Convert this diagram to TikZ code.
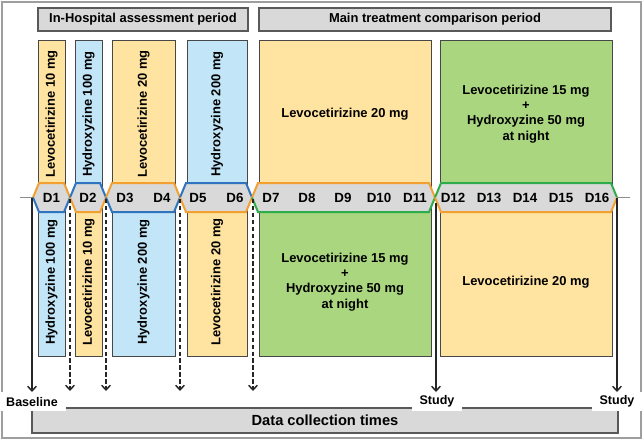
\documentclass[tikz,border=0pt]{standalone}
\usepackage{fontspec}
\setmainfont{Liberation Sans}
\usetikzlibrary{arrows.meta,positioning}
\definecolor{levofill}{HTML}{FFE3A0}
\definecolor{hydrofill}{HTML}{C2E6F8}
\definecolor{combofill}{HTML}{A9D67E}
\definecolor{bandfill}{HTML}{D9D9D9}
\definecolor{levoline}{HTML}{F2A031}
\definecolor{hydroline}{HTML}{2E74BF}
\definecolor{comboline}{HTML}{2EAB4B}
\tikzset{
  blk/.style={draw=black!72,line width=0.75pt,align=center,inner sep=0pt,font=\fontsize{9.7}{11.4}\selectfont\bfseries},
  levoblk/.style={blk,fill=levofill},
  hydroblk/.style={blk,fill=hydrofill},
  comboblk/.style={blk,fill=combofill},
  hdrblk/.style={blk,fill=bandfill,draw=black!65,line width=1pt,minimum height=17.25pt},
  narrow/.style={rotate=90,minimum width=111pt,minimum height=20.25pt},
  wide/.style={minimum width=129pt,minimum height=111pt},
  hexedge/.style={line width=1.5pt,line join=miter},
  daylbl/.style={font=\fontsize{10}{12}\selectfont\bfseries,inner sep=0pt},
  timelbl/.style={fill=white,inner xsep=6pt,inner ysep=0pt,minimum height=14pt,font=\fontsize{9.4}{11}\selectfont\bfseries},
  arr/.style={-{Straight Barb[length=3.5pt,width=6.5pt]},line width=1.1pt,black!85},
  darr/.style={arr,dash pattern=on 3.2pt off 2pt}
}

\begin{document}
\begin{tikzpicture}[x=0.75pt,y=-0.75pt]
  \useasboundingbox (0,0) rectangle (644,440);
  \draw[black!38,line width=0.9pt] (2,2) rectangle (641,438);

  % period headers
  \node[hdrblk,minimum width=157.5pt] (hosp) at (143,19.5) {In-Hospital assessment period};
  \node[hdrblk,minimum width=264pt] (main) at (435,19.5) {Main treatment comparison period};

  % upper treatment row
  \node[levoblk,narrow] (t1) at (51.5,114) {Levocetirizine 10 mg};
  \node[hydroblk,narrow] (t2) at (88.5,114) {Hydroxyzine 100 mg};
  \node[levoblk,narrow,minimum height=47.25pt] (t3) at (143.5,114) {Levocetirizine 20 mg};
  \node[hydroblk,narrow,minimum height=45pt] (t4) at (217,114) {Hydroxyzine 200 mg};
  \node[levoblk,wide] (t5) at (345,114) {Levocetirizine 20 mg};
  \node[comboblk,wide] (t6) at (526,114) {Levocetirizine 15 mg\\+\\Hydroxyzine 50 mg\\at night};

  % lower treatment row
  \node[hydroblk,narrow] (b1) at (51.5,282) {Hydroxyzine 100 mg};
  \node[levoblk,narrow] (b2) at (88.5,282) {Levocetirizine 10 mg};
  \node[hydroblk,narrow,minimum height=47.25pt] (b3) at (143.5,282) {Hydroxyzine 200 mg};
  \node[levoblk,narrow,minimum height=45pt] (b4) at (217,282) {Levocetirizine 20 mg};
  \node[comboblk,wide] (b5) at (345,282) {Levocetirizine 15 mg\\+\\Hydroxyzine 50 mg\\at night};
  \node[levoblk,wide] (b6) at (526,282) {Levocetirizine 20 mg};

  % day band
  \draw[black!45,line width=1pt] (20,197.5) -- (33,197.5) (617,197.5) -- (630,197.5);
  \fill[bandfill] (33,197.5) -- (39,183) -- (64,183) -- (70,197.5) -- (64,212) -- (39,212) -- cycle;
  \draw[hexedge,levoline] (33,197.5) -- (39,183) -- (64,183) -- (70,197.5);
  \draw[hexedge,hydroline] (33,197.5) -- (39,212) -- (64,212) -- (70,197.5);
  \fill[bandfill] (70,197.5) -- (76,183) -- (100,183) -- (106,197.5) -- (100,212) -- (76,212) -- cycle;
  \draw[hexedge,hydroline] (70,197.5) -- (76,183) -- (100,183) -- (106,197.5);
  \draw[hexedge,levoline] (70,197.5) -- (76,212) -- (100,212) -- (106,197.5);
  \fill[bandfill] (106,197.5) -- (112,183) -- (174,183) -- (180,197.5) -- (174,212) -- (112,212) -- cycle;
  \draw[hexedge,levoline] (106,197.5) -- (112,183) -- (174,183) -- (180,197.5);
  \draw[hexedge,hydroline] (106,197.5) -- (112,212) -- (174,212) -- (180,197.5);
  \fill[bandfill] (180,197.5) -- (186,183) -- (246,183) -- (252,197.5) -- (246,212) -- (186,212) -- cycle;
  \draw[hexedge,hydroline] (180,197.5) -- (186,183) -- (246,183) -- (252,197.5);
  \draw[hexedge,levoline] (180,197.5) -- (186,212) -- (246,212) -- (252,197.5);
  \fill[bandfill] (252,197.5) -- (258,183) -- (429,183) -- (435,197.5) -- (429,212) -- (258,212) -- cycle;
  \draw[hexedge,levoline] (252,197.5) -- (258,183) -- (429,183) -- (435,197.5);
  \draw[hexedge,comboline] (252,197.5) -- (258,212) -- (429,212) -- (435,197.5);
  \fill[bandfill] (435,197.5) -- (441,183) -- (611,183) -- (617,197.5) -- (611,212) -- (441,212) -- cycle;
  \draw[hexedge,comboline] (435,197.5) -- (441,183) -- (611,183) -- (617,197.5);
  \draw[hexedge,levoline] (435,197.5) -- (441,212) -- (611,212) -- (617,197.5);

  \node[daylbl] (d1) at (51.5,198) {D1};
  \node[daylbl] (d2) at (88,198) {D2};
  \node[daylbl] (d3) at (125,198) {D3};
  \node[daylbl] (d4) at (162,198) {D4};
  \node[daylbl] (d5) at (198,198) {D5};
  \node[daylbl] (d6) at (235,198) {D6};
  \node[daylbl] (d7) at (271,198) {D7};
  \node[daylbl] (d8) at (307,198) {D8};
  \node[daylbl] (d9) at (343,198) {D9};
  \node[daylbl] (d10) at (379,198) {D10};
  \node[daylbl] (d11) at (415,198) {D11};
  \node[daylbl] (d12) at (453,198) {D12};
  \node[daylbl] (d13) at (489,198) {D13};
  \node[daylbl] (d14) at (525,198) {D14};
  \node[daylbl] (d15) at (561,198) {D15};
  \node[daylbl] (d16) at (597,198) {D16};

  % data collection
  \node[hdrblk,minimum width=439.5pt,minimum height=18.75pt,font=\fontsize{11}{13}\selectfont\bfseries] (coll) at (325,420.5) {Data collection times};
  \node[timelbl,anchor=north] (base) at (32,392) {Baseline};
  \node[timelbl,anchor=north] (study1) at (437,392) {Study};
  \node[timelbl,anchor=north] (study2) at (617,392) {Study};

  \coordinate (s0) at (32,198);
  \coordinate (s1) at (436,203);
  \coordinate (s2) at (617,198);
  \coordinate (q1) at (70,199);
  \coordinate (q2) at (106,199);
  \coordinate (q3) at (180,199);
  \coordinate (q4) at (253,199);
  \coordinate (e1) at (70,391);
  \coordinate (e2) at (106,391);
  \coordinate (e3) at (180,391);
  \coordinate (e4) at (253,391);

  \draw[arr] (s0) -- (base.north);
  \draw[arr] (s1) -- (study1.north -| s1);
  \draw[arr] (s2) -- (study2.north);
  \draw[darr] (q1) -- (e1);
  \draw[darr] (q2) -- (e2);
  \draw[darr] (q3) -- (e3);
  \draw[darr] (q4) -- (e4);
\end{tikzpicture}
\end{document}
